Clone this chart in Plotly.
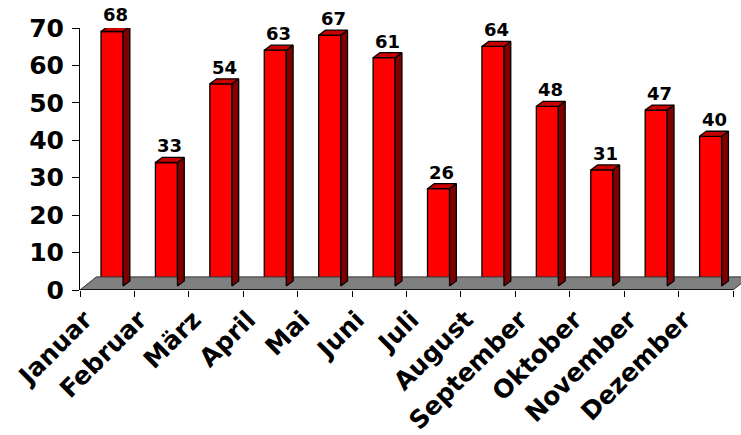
import plotly.graph_objects as go

# ---- data ----
MONTHS = ["Januar", "Februar", "März", "April", "Mai", "Juni", "Juli",
          "August", "September", "Oktober", "November", "Dezember"]
VALUES = [68, 33, 54, 63, 67, 61, 26, 64, 48, 31, 47, 40]
Y_TICKS = [0, 10, 20, 30, 40, 50, 60, 70]

# ---- 3D look parameters (in axis units) ----
N = len(MONTHS)
BASE = 1.07          # bar sits a bit behind the floor's front edge
BAR_W = 0.405        # width of front face (category units)
BAR_X0 = 0.386       # left of front face within category
DX, DY = 0.125, 1.35  # bar depth offset
FLOOR_DX, FLOOR_DY = 0.30, 3.5

FONT = "DejaVu Sans"
RED = "#FF0000"
SIDE = "#800000"
TOP = "#C80000"
EDGE = 1.3

fig = go.Figure()

# floor
fig.add_trace(go.Scatter(
    x=[0, N, N + FLOOR_DX, FLOOR_DX, 0],
    y=[0, 0, FLOOR_DY, FLOOR_DY, 0],
    mode="lines", fill="toself", fillcolor="#808080",
    line=dict(color="#303030", width=1), hoverinfo="skip", showlegend=False))
# front edge of floor (axis line)
fig.add_trace(go.Scatter(x=[0, N], y=[0, 0], mode="lines",
                         line=dict(color="black", width=1.5),
                         hoverinfo="skip", showlegend=False))

# side and top faces
for i, v in enumerate(VALUES):
    xl = i + BAR_X0
    xr = xl + BAR_W
    top = BASE + v
    fig.add_trace(go.Scatter(
        x=[xr, xr + DX, xr + DX, xr, xr],
        y=[BASE, BASE + DY, top + DY, top, BASE],
        mode="lines", fill="toself", fillcolor=SIDE,
        line=dict(color="black", width=EDGE), hoverinfo="skip", showlegend=False,
        cliponaxis=False))
    fig.add_trace(go.Scatter(
        x=[xl, xr, xr + DX, xl + DX, xl],
        y=[top, top, top + DY, top + DY, top],
        mode="lines", fill="toself", fillcolor=TOP,
        line=dict(color="black", width=EDGE), hoverinfo="skip", showlegend=False,
        cliponaxis=False))

# front faces
fig.add_trace(go.Bar(
    x=[i + BAR_X0 + BAR_W / 2 for i in range(N)],
    y=VALUES, base=BASE, width=BAR_W,
    marker=dict(color=RED, line=dict(color="black", width=EDGE)),
    hoverinfo="skip", showlegend=False))

# data labels (anchored at the bar top, shifted up by the depth in pixels)
for i, v in enumerate(VALUES):
    fig.add_annotation(
        x=i + BAR_X0 + BAR_W / 2 + DX / 2, y=BASE + v,
        xref="x", yref="y", text=str(v), showarrow=False,
        xanchor="center", yanchor="bottom", yshift=4,
        font=dict(family=FONT, size=18, color="black", weight="bold"))

fig.update_layout(
    width=741, height=435,
    margin=dict(l=80, r=0, t=28, b=145),
    paper_bgcolor="white", plot_bgcolor="white",
    showlegend=False,
    xaxis=dict(
        range=[0, 12.147], showgrid=False, zeroline=False, showline=False,
        automargin=False,
        tickmode="array", tickvals=[i + 0.09 for i in range(N)], ticktext=MONTHS,
        ticks="", tickangle=-45, ticklabelstandoff=9,
        tickfont=dict(family=FONT, size=25, color="black", weight="bold"),
        minor=dict(tickmode="array", tickvals=list(range(N + 1)), ticks="outside",
                   ticklen=6, tickcolor="black", tickwidth=1, showgrid=False),
    ),
    yaxis=dict(
        range=[0, 70], tickvals=Y_TICKS, showgrid=False, zeroline=False,
        automargin=False,
        showline=True, linecolor="black", linewidth=1,
        ticks="outside", ticklen=7, tickcolor="black", ticklabelstandoff=3,
        tickfont=dict(family=FONT, size=25, color="black", weight="bold"),
    ),
)

fig.write_html("out.html", config={"displayModeBar": False},
               post_script="document.body.style.margin='0';")
